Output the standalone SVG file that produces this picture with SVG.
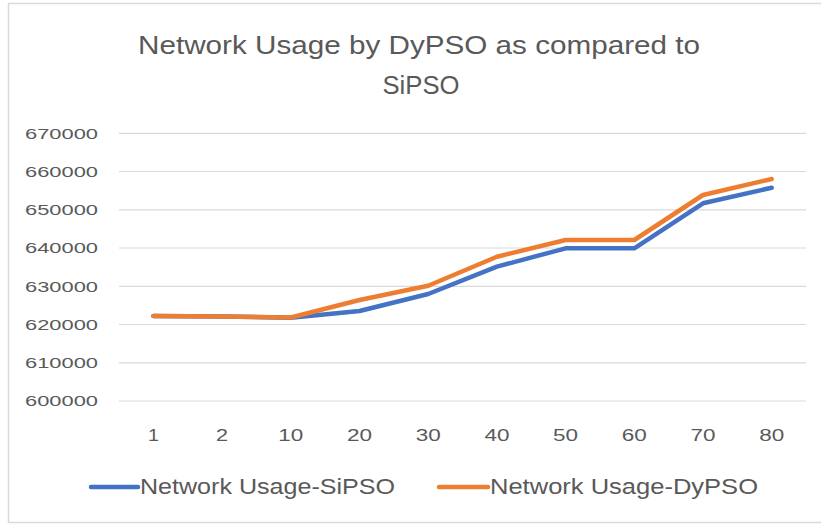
<svg xmlns="http://www.w3.org/2000/svg" width="821" height="525" viewBox="0 0 821 525">
<style>
.t{font-family:"Liberation Sans",Arial,sans-serif;fill:#595959}
.ax{font-size:15px}
.xl{font-size:16px}
.grid{stroke:#d9d9d9;stroke-width:1.2}
.s{fill:none;stroke-width:4.5;stroke-linejoin:round;stroke-linecap:round}
.blue{stroke:#4472C4}
.orange{stroke:#ED7D31}
</style>
<rect x="0" y="0" width="821" height="525" fill="#fff"/>
<rect x="8.5" y="3.5" width="820" height="519" fill="#fff" stroke="#d9d9d9" stroke-width="1.5"/>
<g id="title">
<text class="t" x="419" y="54" font-size="26" text-anchor="middle" textLength="562" lengthAdjust="spacingAndGlyphs">Network Usage by DyPSO as compared to</text>
<text class="t" x="421" y="94" font-size="26" text-anchor="middle" textLength="77" lengthAdjust="spacingAndGlyphs">SiPSO</text>
</g>
<g id="gridlines">
<line class="grid" x1="119" y1="133.3" x2="806" y2="133.3"/>
<line class="grid" x1="119" y1="171.5" x2="806" y2="171.5"/>
<line class="grid" x1="119" y1="209.8" x2="806" y2="209.8"/>
<line class="grid" x1="119" y1="248" x2="806" y2="248"/>
<line class="grid" x1="119" y1="286.3" x2="806" y2="286.3"/>
<line class="grid" x1="119" y1="324.5" x2="806" y2="324.5"/>
<line class="grid" x1="119" y1="362.8" x2="806" y2="362.8"/>
<line class="grid" x1="119" y1="401" x2="806" y2="401"/>
</g>
<g id="y-axis" class="t ax" text-anchor="end">
<text x="98" y="138.5" textLength="73" lengthAdjust="spacingAndGlyphs">670000</text>
<text x="98" y="176.7" textLength="73" lengthAdjust="spacingAndGlyphs">660000</text>
<text x="98" y="215" textLength="73" lengthAdjust="spacingAndGlyphs">650000</text>
<text x="98" y="253.2" textLength="73" lengthAdjust="spacingAndGlyphs">640000</text>
<text x="98" y="291.5" textLength="73" lengthAdjust="spacingAndGlyphs">630000</text>
<text x="98" y="329.7" textLength="73" lengthAdjust="spacingAndGlyphs">620000</text>
<text x="98" y="368" textLength="73" lengthAdjust="spacingAndGlyphs">610000</text>
<text x="98" y="406.2" textLength="73" lengthAdjust="spacingAndGlyphs">600000</text>
</g>
<g id="x-axis" class="t xl" text-anchor="middle">
<text x="153.4" y="441" textLength="11" lengthAdjust="spacingAndGlyphs">1</text>
<text x="222.1" y="441" textLength="12" lengthAdjust="spacingAndGlyphs">2</text>
<text x="290.8" y="441" textLength="25" lengthAdjust="spacingAndGlyphs">10</text>
<text x="359.5" y="441" textLength="25" lengthAdjust="spacingAndGlyphs">20</text>
<text x="428.2" y="441" textLength="25" lengthAdjust="spacingAndGlyphs">30</text>
<text x="496.9" y="441" textLength="25" lengthAdjust="spacingAndGlyphs">40</text>
<text x="565.6" y="441" textLength="25" lengthAdjust="spacingAndGlyphs">50</text>
<text x="634.3" y="441" textLength="25" lengthAdjust="spacingAndGlyphs">60</text>
<text x="703" y="441" textLength="25" lengthAdjust="spacingAndGlyphs">70</text>
<text x="771.7" y="441" textLength="25" lengthAdjust="spacingAndGlyphs">80</text>
</g>
<g id="connectors">
<polyline id="series-sipso" class="s blue" points="153.4,316 222.1,316.5 290.8,317.7 359.5,311 428.2,294 496.9,266.7 565.6,248.3 634.3,248.3 703,203.3 771.7,187.7"/>
<polyline id="series-dypso" class="s orange" points="153.4,316 222.1,316.5 290.8,317.5 359.5,300 428.2,285.7 496.9,256.7 565.6,240 634.3,240 703,195 771.7,179"/>
</g>
<g id="legend-sipso">
<line class="blue" x1="91" y1="487" x2="138" y2="487" stroke-width="4.5" stroke-linecap="round"/>
<text class="t" x="140" y="494" font-size="22" textLength="255" lengthAdjust="spacingAndGlyphs">Network Usage-SiPSO</text>
</g>
<g id="legend-dypso">
<line class="orange" x1="439" y1="487" x2="488" y2="487" stroke-width="4.5" stroke-linecap="round"/>
<text class="t" x="490" y="494" font-size="22" textLength="268" lengthAdjust="spacingAndGlyphs">Network Usage-DyPSO</text>
</g>
</svg>
